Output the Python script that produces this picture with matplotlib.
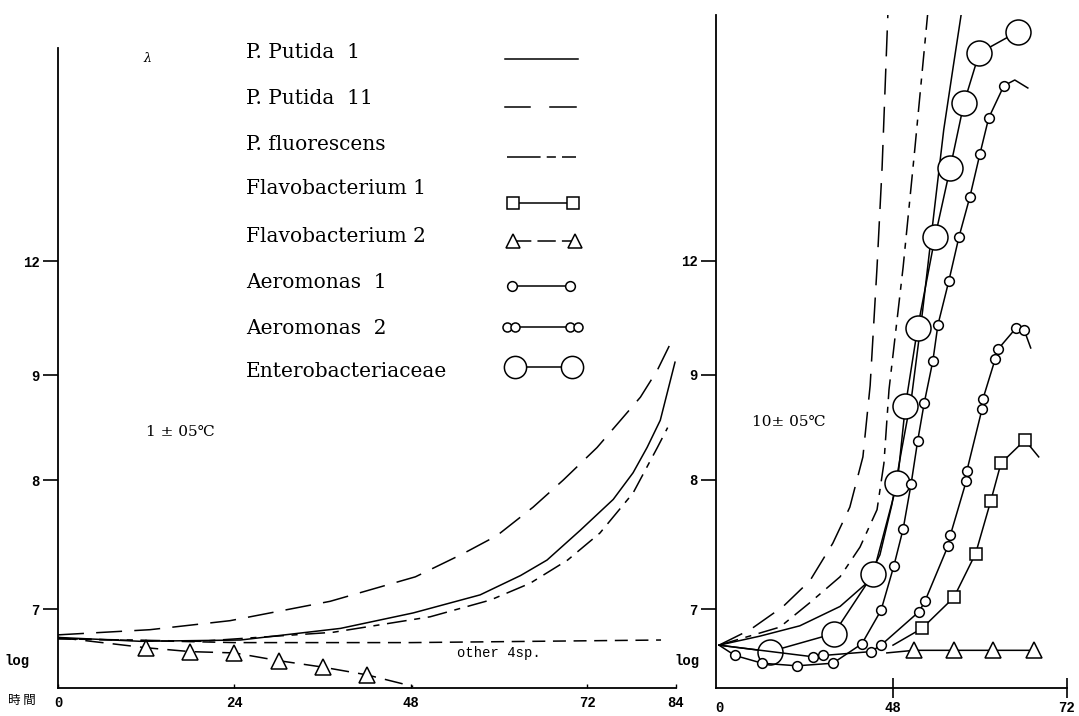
import numpy as np
import matplotlib.pyplot as plt
from matplotlib.lines import Line2D

# ---- 1 +- 0.5 C (left panel): time (h), log count ----
t1_putida1 = [0, 11.2, 24.8, 38.4, 48.3, 57.4, 62.9, 66.5, 71.0, 75.5, 78.2, 80.1, 81.9, 83.9]
v1_putida1 = [6.78, 6.75, 6.76, 6.85, 6.97, 7.11, 7.26, 7.38, 7.61, 7.85, 8.07, 8.31, 8.57, 9.34]

t1_putida11 = [0, 12.5, 23.4, 37.0, 48.6, 55.1, 59.7, 64.6, 68.7, 73.3, 76.5, 79.2, 81.5, 83.3]
v1_putida11 = [6.80, 6.84, 6.91, 7.06, 7.25, 7.43, 7.57, 7.79, 8.00, 8.31, 8.57, 8.79, 9.13, 9.84]

t1_fluor = [0, 19.3, 37.4, 50.6, 58.8, 64.2, 69.3, 73.7, 78.2, 81.5, 82.9]
v1_fluor = [6.77, 6.75, 6.82, 6.94, 7.07, 7.20, 7.38, 7.59, 7.90, 8.31, 8.50]

t1_other = [0, 24, 48, 82]
v1_other = [6.77, 6.74, 6.74, 6.76]

t1_flavo2 = [0, 12, 18, 24, 30, 36, 42, 48.3]
v1_flavo2 = [6.78, 6.70, 6.67, 6.66, 6.60, 6.55, 6.49, 6.40]

# ---- 10 +- 0.5 C (right panel) ----
t10_putida1 = [0, 11.3, 22.3, 33.4, 40.3, 44.4, 47.7, 49.2, 50.6, 52.1, 53.7, 55.0, 56.3, 57.5]
v10_putida1 = [6.72, 6.79, 6.87, 7.02, 7.19, 7.42, 7.81, 8.29, 8.81, 10.71, 13.34, 15.45, 17.1, 18.6]

t10_putida11 = [0, 8.6, 17.7, 25.1, 31.4, 36.1, 39.7, 41.7, 43.6, 45.0, 46.6]
v10_putida11 = [6.72, 6.84, 7.02, 7.22, 7.51, 7.79, 8.22, 8.90, 11.84, 14.47, 18.53]

t10_fluor = [0, 16.8, 25.1, 33.4, 38.9, 43.6, 45.5, 46.9, 49.4, 51.0, 52.8]
v10_fluor = [6.72, 6.86, 7.05, 7.25, 7.48, 7.77, 8.16, 8.86, 11.84, 14.92, 18.53]

t10_entero = [0, 14.1, 31.7, 42.5, 48.6, 49.7, 51.4, 53.8, 55.9, 57.8, 59.9, 65.2]
v10_entero = [6.72, 6.67, 6.81, 7.27, 7.98, 8.70, 10.24, 12.63, 14.45, 16.16, 17.47, 18.03]

t10_aero1 = [0, 4.4, 11.9, 21.5, 31.4, 39.4, 44.7, 48.1, 49.4, 50.5, 51.4, 52.3, 53.5,
             54.2, 55.7, 57.1, 58.6, 60.0, 61.2, 63.3, 64.8, 66.6]
v10_aero1 = [6.72, 6.64, 6.58, 6.56, 6.58, 6.73, 6.99, 7.33, 7.62, 7.97, 8.37, 8.73, 9.37,
             10.32, 11.47, 12.63, 13.68, 14.82, 15.76, 16.61, 16.76, 16.55]

t10_aero2 = [0, 25.9, 28.7, 41.9, 44.7, 51.6, 52.4, 55.6, 55.9, 58.1, 58.2, 60.3, 60.4,
             62.1, 62.5, 65.0, 66.1, 67.0]
v10_aero2 = [6.72, 6.63, 6.64, 6.67, 6.72, 6.98, 7.06, 7.49, 7.57, 7.99, 8.09, 8.68, 8.77,
             9.42, 9.68, 10.24, 10.18, 9.71]

t10_flavo1 = [48.0, 52.0, 56.4, 59.4, 61.5, 62.9, 66.2, 68.1]
v10_flavo1 = [6.72, 6.85, 7.09, 7.43, 7.84, 8.16, 8.38, 8.22]

t10_flavo2 = [46.3, 50.9, 56.4, 61.8, 67.4]
v10_flavo2 = [6.66, 6.68, 6.68, 6.68, 6.68]

y_ticks = [7, 8, 9, 12]

# axis geometry: the log axis is drawn with uneven steps
Y_VALS = [0, 7, 8, 9, 12, 40]
Y_POS = [79 - 7 * 129, 79, 208, 313, 427, 427 + 28 * 38]


def y_fwd(v):
    return np.interp(v, Y_VALS, Y_POS)


def y_inv(p):
    return np.interp(p, Y_POS, Y_VALS)


def x_fwd(t):
    t = np.asarray(t, dtype=float)
    return np.where(t <= 48, t, 2 * t - 48)


def x_inv(p):
    p = np.asarray(p, dtype=float)
    return np.where(p <= 48, p, (p + 48) / 2)


W, H = 1079, 716
fig = plt.figure(figsize=(W / 100, H / 100), dpi=100)
fig.patch.set_facecolor('white')

serif = ['DejaVu Serif', 'DejaVu Sans']
mono = ['Liberation Mono', 'DejaVu Sans Mono']


def px(x, y):
    return x / W, 1 - y / H


def style_axes(ax):
    for s in ['top', 'right']:
        ax.spines[s].set_visible(False)
    for s in ['left', 'bottom']:
        ax.spines[s].set_linewidth(1.3)
    ax.set_yscale('function', functions=(y_fwd, y_inv))
    ax.set_yticks(y_ticks)
    ax.set_yticklabels([str(v) for v in y_ticks], family=mono, fontsize=10, weight='bold')
    ax.tick_params(axis='y', direction='out', length=11, width=1.2, pad=2)
    ax.set_facecolor('none')


lw = 1.1
LONG = (0, (17, 8))
DASHDOT = (0, (13, 5, 4, 5))
SHORT = (0, (8.5, 5))
mk = dict(mfc='white', mec='black', mew=1.1)

# ---------------- left panel ----------------
axL = fig.add_axes([58 / W, 28 / H, 642 / W, 648 / H])
style_axes(axL)
axL.set_xlim(0, 87.3)
axL.set_ylim(6.388, 17.82)
axL.spines['left'].set_bounds(6.388, 17.6)
axL.spines['bottom'].set_bounds(0, 84)

axL.plot(t1_putida1, v1_putida1, color='black', lw=lw)
axL.plot(t1_putida11, v1_putida11, color='black', lw=lw, ls=LONG)
axL.plot(t1_fluor, v1_fluor, color='black', lw=lw, ls=DASHDOT)
axL.plot(t1_other, v1_other, color='black', lw=lw, ls=SHORT)
axL.plot(t1_flavo2, v1_flavo2, color='black', lw=lw, ls=(0, (12, 6)))
axL.plot(t1_flavo2[1:-1], v1_flavo2[1:-1], ls='none', marker='^', ms=11, **mk)

axL.set_xticks([0, 24, 48, 72, 84])
axL.set_xticklabels(['0', '24', '48', '72', '84'], family=mono, fontsize=10, weight='bold')
axL.tick_params(axis='x', direction='in', length=3, width=1, pad=6)
axL.text(60, 6.71, 'other 4sp.', family=mono, fontsize=10, ha='center', va='top')
axL.text(12, 8.46, '1 ± 05℃', family=serif, fontsize=11, ha='left', va='center')
axL.text(-0.045, 6.6, 'log', transform=axL.get_yaxis_transform(), family=mono,
         fontsize=10, weight='bold', ha='right', va='center')

# ---------------- right panel ----------------
axR = fig.add_axes([716 / W, 28 / H, 363 / W, 673 / H])
style_axes(axR)
axR.set_xscale('function', functions=(x_fwd, x_inv))
axR.set_xlim(-0.83, 73.66)
axR.set_ylim(6.388, 18.47)
axR.spines['bottom'].set_bounds(-0.83, 72)

axR.plot(t10_putida1, v10_putida1, color='black', lw=lw)
axR.plot(t10_putida11, v10_putida11, color='black', lw=lw, ls=LONG)
axR.plot(t10_fluor, v10_fluor, color='black', lw=lw, ls=DASHDOT)
axR.plot(t10_entero, v10_entero, color='black', lw=lw)
axR.plot(t10_entero[1:], v10_entero[1:], ls='none', marker='o', ms=18, **mk)
axR.plot(t10_aero1, v10_aero1, color='black', lw=lw)
axR.plot(t10_aero1[1:-2], v10_aero1[1:-2], ls='none', marker='o', ms=7, **mk)
axR.plot(t10_aero2, v10_aero2, color='black', lw=lw)
axR.plot(t10_aero2[1:-1], v10_aero2[1:-1], ls='none', marker='o', ms=7, **mk)
axR.plot(t10_flavo1, v10_flavo1, color='black', lw=lw)
axR.plot(t10_flavo1[1:-1], v10_flavo1[1:-1], ls='none', marker='s', ms=9, **mk)
axR.plot(t10_flavo2, v10_flavo2, color='black', lw=lw)
axR.plot(t10_flavo2[1:], v10_flavo2[1:], ls='none', marker='^', ms=11, **mk)

axR.set_xticks([0, 48, 72])
axR.set_xticklabels(['0', '48', '72'], family=mono, fontsize=10, weight='bold')
axR.tick_params(axis='x', direction='inout', length=14, width=1.2, pad=2)
axR.xaxis.get_major_ticks()[0].tick1line.set_visible(False)
axR.text(9, 8.55, '10± 05℃', family=serif, fontsize=11, ha='left', va='center')
axR.text(-0.045, 6.6, 'log', transform=axR.get_yaxis_transform(), family=mono,
         fontsize=10, weight='bold', ha='right', va='center')

# ---------------- legend ----------------
labels = ['P. Putida  1', 'P. Putida  11', 'P. fluorescens', 'Flavobacterium 1',
          'Flavobacterium 2', 'Aeromonas  1', 'Aeromonas  2', 'Enterobacteriaceae']
text_y = [52, 98, 144, 189, 236, 283, 328, 372]
sample_y = [59, 107, 157, 203, 241, 286, 327, 367]
for lab, ty in zip(labels, text_y):
    fig.text(*px(246, ty), lab, family=serif, fontsize=14.5, ha='left', va='center')


def sample(xs, y, **kw):
    xf = [x / W for x in xs]
    yf = [1 - y / H] * len(xs)
    fig.add_artist(Line2D(xf, yf, transform=fig.transFigure, color='black', lw=lw, **kw))


sample([505, 578], sample_y[0])
sample([505, 530], sample_y[1])
sample([550, 576], sample_y[1])
sample([507, 576], sample_y[2], ls=(0, (22, 4, 6, 4)))
sample([513, 573], sample_y[3], marker='s', ms=8, markevery=[0, 1], **mk)
sample([513, 575], sample_y[4], marker='^', ms=10, markevery=[0, 1], ls=(0, (12, 4)), **mk)
sample([512, 570], sample_y[5], marker='o', ms=7, **mk)
sample([507, 515, 570, 578], sample_y[6], marker='o', ms=6.5, **mk)
sample([515, 572], sample_y[7], marker='o', ms=16, **mk)

fig.text(*px(8, 700), '時 間', family=['Noto Sans CJK JP', 'DejaVu Sans'], fontsize=9,
         ha='left', va='center')
fig.text(*px(147, 58), 'λ', family=serif, fontsize=9, style='italic', ha='center', va='center')

fig.savefig('out.png', dpi=100, facecolor='white')
